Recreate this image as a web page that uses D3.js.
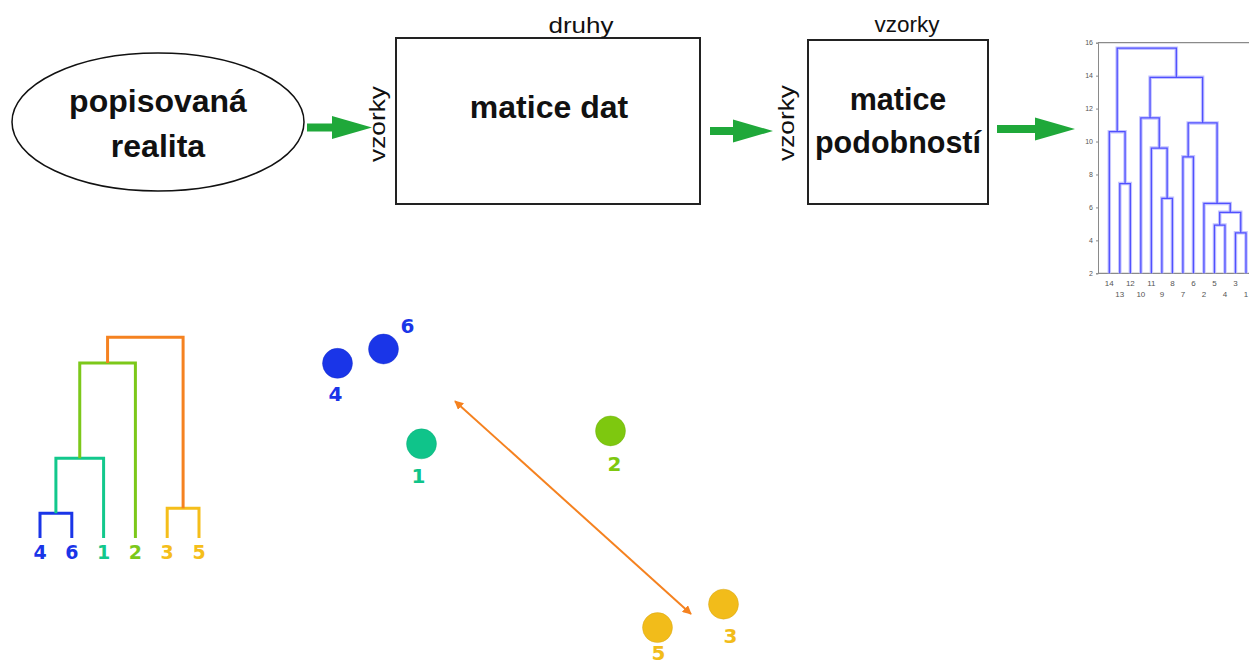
<!DOCTYPE html>
<html>
<head>
<meta charset="utf-8">
<script src="https://cdn.jsdelivr.net/npm/d3@7"></script>
<style>
  body { margin: 0; background: #ffffff; }
  svg { display: block; }
</style>
</head>
<body>
<div id="chart"></div>
<script>
// ---- data ----
// small dendrogram (left bottom): leaf order and merges [left, right, height, colour]
var small_leaves = ["4", "6", "1", "2", "3", "5"];
var small_merges = [
  ["4", "6", 1.23, "#1a35e8"],
  ["3", "5", 1.48, "#f5be1a"],
  ["m0", "1", 3.97, "#12c88c"],
  ["m2", "2", 8.72, "#7cc81a"],
  ["m3", "m1", 10, "#f58220"],
];

// ordination of the six samples
var pts_label = ["4", "6", "1", "2", "5", "3"];
var pts_x = [0.75, 1.67, 2.43, 6.21, 7.15, 8.47];
var pts_y = [8.19, 8.6, 5.89, 6.26, 0.64, 1.31];
var pts_col = ["#1a35e8", "#1a35e8", "#0fc48a", "#7ec80f", "#f2bc1a", "#f2bc1a"];
var pts_dx = [-2, 24, -3, 4, 1, 7];
var pts_dy = [38, -16, 39, 40, 32, 39];
var dist_arrow = [[3.1, 7.11], [7.82, 1.03]];

// matlab-like dendrogram (top right): leaf order + linkage (ids 15+ are clusters)
var big_leaves = [14, 13, 12, 10, 11, 9, 8, 7, 6, 2, 5, 4, 3, 1];
var big_linkage = [
  [3, 1, 4.46],
  [5, 4, 4.93],
  [16, 15, 5.7],
  [2, 17, 6.24],
  [9, 8, 6.55],
  [13, 12, 7.45],
  [7, 6, 9.07],
  [11, 19, 9.6],
  [14, 20, 10.6],
  [21, 18, 11.13],
  [10, 22, 11.43],
  [25, 24, 13.9],
  [23, 26, 15.67],
];
var big_ticks = [2, 4, 6, 8, 10, 12, 14, 16];

var width = 1249,
  height = 666;

var svg = d3
  .select("#chart")
  .append("svg")
  .attr("width", width)
  .attr("height", height)
  .attr("viewBox", [0, 0, width, height]);

var defs = svg.append("defs");
["start", "end"].forEach(function (k) {
  defs
    .append("marker")
    .attr("id", "orange-" + k)
    .attr("viewBox", "0 0 10 10")
    .attr("refX", k === "end" ? 9 : 1)
    .attr("refY", 5)
    .attr("markerWidth", 4.5)
    .attr("markerHeight", 4.5)
    .attr("orient", "auto")
    .append("path")
    .attr("d", k === "end" ? "M0,0L10,5L0,10Z" : "M10,0L0,5L10,10Z")
    .attr("fill", "#f58220");
});

// ---- top flow diagram ----
var bold_font = "'Liberation Sans', Arial, sans-serif";

svg
  .append("ellipse")
  .attr("cx", 158)
  .attr("cy", 122)
  .attr("rx", 146)
  .attr("ry", 69)
  .attr("fill", "none")
  .attr("stroke", "#111")
  .attr("stroke-width", 1.5);

var big_text = [
  { text: "popisovaná", x: 158, y: 112, size: 32 },
  { text: "realita", x: 158, y: 157, size: 32 },
  { text: "matice dat", x: 549, y: 118, size: 32 },
  { text: "matice", x: 898, y: 110, size: 30.5 },
  { text: "podobností", x: 898, y: 153, size: 30.5 },
];

svg
  .selectAll(".big-text")
  .data(big_text)
  .enter()
  .append("text")
  .attr("class", "big-text")
  .attr("x", (d) => d.x)
  .attr("y", (d) => d.y)
  .attr("text-anchor", "middle")
  .attr("font-family", bold_font)
  .attr("font-weight", "bold")
  .attr("font-size", (d) => d.size + "px")
  .attr("fill", "#111")
  .text((d) => d.text);

var boxes = [
  { x: 396, y: 38, w: 304, h: 166 },
  { x: 808, y: 40, w: 180, h: 164 },
];
svg
  .selectAll(".box")
  .data(boxes)
  .enter()
  .append("rect")
  .attr("class", "box")
  .attr("x", (d) => d.x)
  .attr("y", (d) => d.y)
  .attr("width", (d) => d.w)
  .attr("height", (d) => d.h)
  .attr("fill", "none")
  .attr("stroke", "#222")
  .attr("stroke-width", 2);

var small_text = [
  { text: "druhy", x: 581, y: 33, rot: 0 },
  { text: "vzorky", x: 907, y: 32, rot: 0 },
  { text: "vzorky", x: 385, y: 124, rot: -90 },
  { text: "vzorky", x: 794, y: 123, rot: -90 },
];
svg
  .selectAll(".small-text")
  .data(small_text)
  .enter()
  .append("text")
  .attr("class", "small-text")
  .attr("transform", (d) => `translate(${d.x},${d.y}) rotate(${d.rot})`)
  .attr("text-anchor", "middle")
  .attr("font-family", bold_font)
  .attr("font-size", "22px")
  .attr("fill", "#111")
  .attr("textLength", (d) => (d.rot ? 76 : 65))
  .attr("lengthAdjust", "spacingAndGlyphs")
  .text((d) => d.text);

// green arrows
var green_arrows = [
  { x0: 307, x1: 332, x2: 372, y: 127.5 },
  { x0: 710, x1: 733, x2: 773, y: 131 },
  { x0: 997, x1: 1035, x2: 1075, y: 129 },
];
svg
  .selectAll(".green-arrow")
  .data(green_arrows)
  .enter()
  .append("path")
  .attr("class", "green-arrow")
  .attr(
    "d",
    (d) =>
      `M${d.x0},${d.y - 4}L${d.x1},${d.y - 4}L${d.x1},${d.y - 11.5}L${d.x2},${d.y}` +
      `L${d.x1},${d.y + 11.5}L${d.x1},${d.y + 4}L${d.x0},${d.y + 4}Z`
  )
  .attr("fill", "#1fa83a");

// ---- top right dendrogram ----
var big_x = d3.scalePoint().domain(big_leaves).range([1109.3, 1246]);
var big_y = d3.scaleLinear().domain([2, 16]).range([273.3, 42.7]);

var big_g = svg.append("g");

big_g
  .append("g")
  .attr("transform", "translate(1098,0)")
  .call(d3.axisLeft(big_y).tickValues(big_ticks).tickSize(2).tickFormat(d3.format("d")))
  .call((g) => g.selectAll("line, path").attr("stroke", "#8a8a8a"))
  .call((g) =>
    g.selectAll("text").attr("font-size", "7px").attr("fill", "#555").attr("font-family", bold_font)
  );

big_g
  .selectAll(".frame")
  .data([16, 2])
  .enter()
  .append("line")
  .attr("x1", 1098)
  .attr("x2", width)
  .attr("y1", (d) => big_y(d))
  .attr("y2", (d) => big_y(d))
  .attr("stroke", "#8a8a8a")
  .attr("stroke-width", 1.2);

var node_pos = {};
big_leaves.forEach((l) => (node_pos[l] = { x: big_x(l), h: 2 }));
var big_links = [];
big_linkage.forEach(function (m, i) {
  var a = node_pos[m[0]],
    b = node_pos[m[1]];
  big_links.push(
    `M${a.x},${big_y(a.h)}L${a.x},${big_y(m[2])}L${b.x},${big_y(m[2])}L${b.x},${big_y(b.h)}`
  );
  node_pos[15 + i] = { x: (a.x + b.x) / 2, h: m[2] };
});

big_g
  .selectAll(".halo")
  .data(big_links)
  .enter()
  .append("path")
  .attr("d", (d) => d)
  .attr("fill", "none")
  .attr("stroke", "#c4c4ff")
  .attr("stroke-width", 3.5);
big_g
  .selectAll(".link")
  .data(big_links)
  .enter()
  .append("path")
  .attr("d", (d) => d)
  .attr("fill", "none")
  .attr("stroke", "#5050ff")
  .attr("stroke-width", 1.3);

big_g
  .selectAll(".leaf-label")
  .data(big_leaves)
  .enter()
  .append("text")
  .attr("x", (d) => big_x(d))
  .attr("y", (d, i) => (i % 2 === 0 ? 286 : 297))
  .attr("text-anchor", "middle")
  .attr("font-family", bold_font)
  .attr("font-size", "8px")
  .attr("fill", "#555")
  .text((d) => d);

// ---- bottom left dendrogram ----
var sm_x = d3.scalePoint().domain(small_leaves).range([40, 199]);
var sm_y = d3.scaleLinear().domain([0, 10]).range([538, 337.3]);

var sm_pos = {};
small_leaves.forEach((l) => (sm_pos[l] = { x: sm_x(l), h: 0 }));
var sm_links = [];
small_merges.forEach(function (m, i) {
  var a = sm_pos[m[0]],
    b = sm_pos[m[1]];
  sm_links.push({
    d: `M${a.x},${sm_y(a.h)}L${a.x},${sm_y(m[2])}L${b.x},${sm_y(m[2])}L${b.x},${sm_y(b.h)}`,
    col: m[3],
  });
  sm_pos["m" + i] = { x: (a.x + b.x) / 2, h: m[2] };
});

svg
  .selectAll(".sm-link")
  .data(sm_links)
  .enter()
  .append("path")
  .attr("d", (d) => d.d)
  .attr("fill", "none")
  .attr("stroke", (d) => d.col)
  .attr("stroke-width", 3);

var leaf_col = { 4: "#1a35e8", 6: "#1a35e8", 1: "#12c88c", 2: "#7cc81a", 3: "#f5be1a", 5: "#f5be1a" };
svg
  .selectAll(".sm-label")
  .data(small_leaves)
  .enter()
  .append("text")
  .attr("x", (d) => sm_x(d))
  .attr("y", 559)
  .attr("text-anchor", "middle")
  .attr("font-family", "'DejaVu Sans', sans-serif")
  .attr("font-weight", "bold")
  .attr("font-size", "19px")
  .attr("fill", (d) => leaf_col[d])
  .text((d) => d);

// ---- ordination plot ----
var ord_x = d3.scaleLinear().domain([0, 10]).range([300, 800]);
var ord_y = d3.scaleLinear().domain([0, 10]).range([650, 300]);

svg
  .append("line")
  .attr("x1", ord_x(dist_arrow[0][0]))
  .attr("y1", ord_y(dist_arrow[0][1]))
  .attr("x2", ord_x(dist_arrow[1][0]))
  .attr("y2", ord_y(dist_arrow[1][1]))
  .attr("stroke", "#f58220")
  .attr("stroke-width", 2)
  .attr("marker-start", "url(#orange-start)")
  .attr("marker-end", "url(#orange-end)");

svg
  .selectAll(".pt")
  .data(pts_label)
  .enter()
  .append("circle")
  .attr("cx", (d, i) => ord_x(pts_x[i]))
  .attr("cy", (d, i) => ord_y(pts_y[i]))
  .attr("r", 15)
  .attr("fill", (d, i) => pts_col[i])
  .attr("stroke", (d, i) => d3.color(pts_col[i]).darker(0.4))
  .attr("stroke-opacity", 0.4);

svg
  .selectAll(".pt-label")
  .data(pts_label)
  .enter()
  .append("text")
  .attr("x", (d, i) => ord_x(pts_x[i]) + pts_dx[i])
  .attr("y", (d, i) => ord_y(pts_y[i]) + pts_dy[i])
  .attr("text-anchor", "middle")
  .attr("font-family", "'DejaVu Sans', sans-serif")
  .attr("font-weight", "bold")
  .attr("font-size", "20px")
  .attr("fill", (d, i) => pts_col[i])
  .text((d) => d);
</script>
</body>
</html>
